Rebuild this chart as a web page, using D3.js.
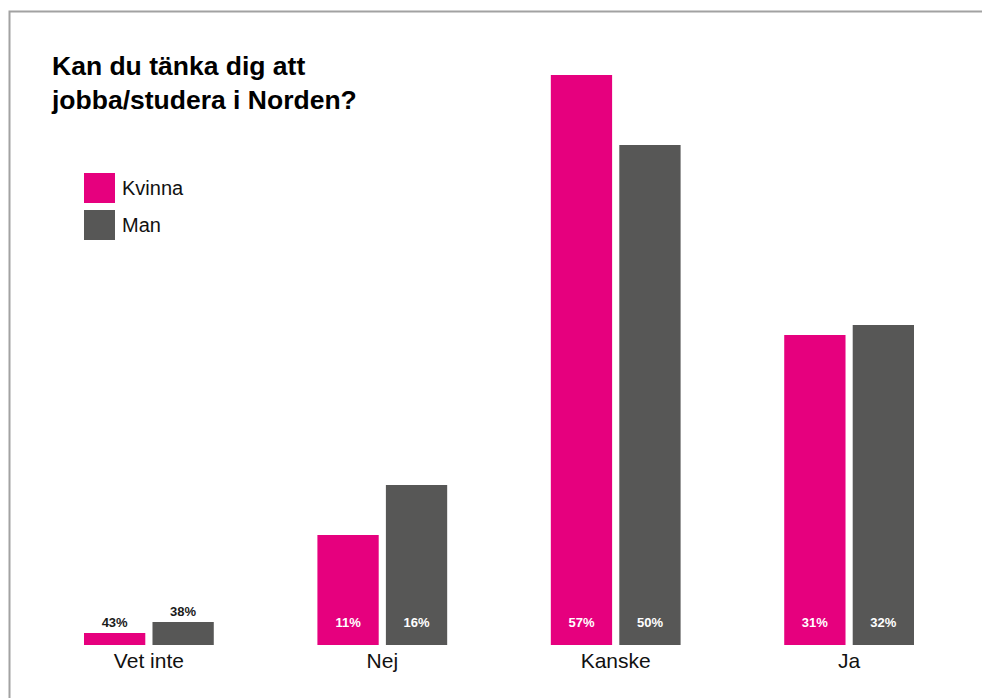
<!DOCTYPE html>
<html>
<head>
<meta charset="utf-8">
<script src="https://cdn.jsdelivr.net/npm/d3@7"></script>
<style>
    body { margin: 0; background: #fff; }
    svg { display: block; }
    text { font-family: "Liberation Sans", Arial, sans-serif; }
</style>
</head>
<body>
<div id="chart"></div>
<script>

// categories and series
let categories = ["Vet inte", "Nej", "Kanske", "Ja"];
let seriesNames = ["Kvinna", "Man"];
// bar heights as drawn (percent)
let kvinnaValues = [1.2, 11, 57, 31];
let manValues = [2.3, 16, 50, 32];
// printed value labels
let kvinnaLabels = ["43%", "11%", "57%", "31%"];
let manLabels = ["38%", "16%", "50%", "32%"];

let colors = {Kvinna: "#e6007e", Man: "#575756"};

let width = 982, height = 698;

let svg = d3.select("#chart").append("svg")
    .attr("width", width)
    .attr("height", height);

// frame
svg.append("rect")
    .attr("x", 9.5)
    .attr("y", 11.5)
    .attr("width", 1000)
    .attr("height", 1000)
    .attr("fill", "none")
    .attr("stroke", "#a2a2a2")
    .attr("stroke-width", 2);

// title
let title = svg.append("text")
    .attr("x", 52)
    .attr("y", 75)
    .style("font-size", "26.5px")
    .style("font-weight", "bold")
    .style("fill", "#000");
title.append("tspan").attr("x", 52).attr("dy", 0).text("Kan du tänka dig att");
title.append("tspan").attr("x", 52).attr("dy", 34).text("jobba/studera i Norden?");

// legend
let legend = svg.append("g").attr("transform", "translate(84,173)");
seriesNames.forEach(function(name, i) {
    legend.append("rect")
        .attr("x", 0)
        .attr("y", i * 37)
        .attr("width", 31)
        .attr("height", 30)
        .attr("fill", colors[name]);
    legend.append("text")
        .attr("x", 38)
        .attr("y", i * 37 + 22)
        .style("font-size", "20px")
        .style("fill", "#111")
        .text(name);
});

// scales
let x0 = d3.scaleBand()
    .domain(categories)
    .range([84, 914])
    .paddingInner(0.444)
    .paddingOuter(0);

let x1 = d3.scaleBand()
    .domain(seriesNames)
    .range([0, x0.bandwidth()])
    .paddingInner(0.105);

let y = d3.scaleLinear()
    .domain([0, 60])
    .range([645, 45]);

let rows = categories.map(function(c, i) {
    return {
        category: c,
        bars: [
            {name: "Kvinna", value: kvinnaValues[i], label: kvinnaLabels[i]},
            {name: "Man", value: manValues[i], label: manLabels[i]}
        ]
    };
});

let groups = svg.selectAll(".group")
    .data(rows)
    .enter()
    .append("g")
    .attr("class", "group")
    .attr("transform", d => `translate(${x0(d.category)},0)`);

groups.selectAll("rect")
    .data(d => d.bars)
    .enter()
    .append("rect")
    .attr("x", d => x1(d.name))
    .attr("y", d => y(d.value))
    .attr("width", x1.bandwidth())
    .attr("height", d => y(0) - y(d.value))
    .attr("fill", d => colors[d.name]);

// value labels: inside the bar, or above it when the bar is too short
groups.selectAll(".value")
    .data(d => d.bars)
    .enter()
    .append("text")
    .attr("class", "value")
    .attr("x", d => x1(d.name) + x1.bandwidth() / 2)
    .attr("y", function(d) {
        let h = y(0) - y(d.value);
        return h > 30 ? y(0) - 18 : y(d.value) - 6;
    })
    .attr("text-anchor", "middle")
    .style("font-size", "13px")
    .style("font-weight", "bold")
    .style("fill", function(d) {
        return (y(0) - y(d.value)) > 30 ? "#fff" : "#1a1a1a";
    })
    .text(d => d.label);

// category axis labels
let xAxis = d3.axisBottom(x0).tickSize(0).tickPadding(8);
let axisG = svg.append("g")
    .attr("transform", `translate(0,${y(0)})`)
    .call(xAxis);
axisG.select(".domain").remove();
axisG.selectAll("text")
    .style("font-family", "'Liberation Sans', Arial, sans-serif")
    .style("font-size", "21px")
    .style("fill", "#111");

</script>
</body>
</html>
